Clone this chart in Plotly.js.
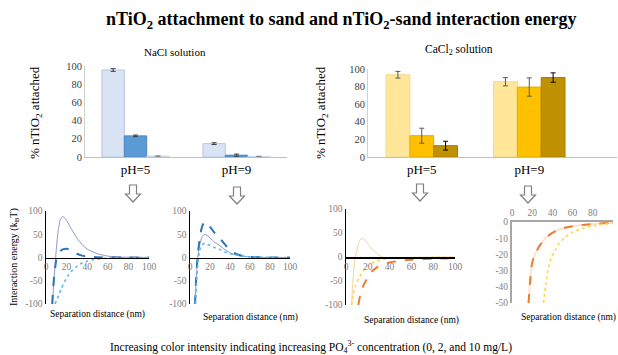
<!DOCTYPE html>
<html><head><meta charset="utf-8">
<script src="https://cdn.plot.ly/plotly-3.0.1.min.js"></script>
<style>html,body{margin:0;padding:0;background:#fff}#c{width:618px;height:355px}</style>
</head><body><div id="c"></div>
<script>
// ---------- DATA ----------
const barCats = ['pH=5', 'pH=9'];
const concLabels = ['0 mg/L', '2 mg/L', '10 mg/L'];
// NaCl attachment (%)
const nacl0 = [95.6, 14.7];  const nacl0Err = [1.5, 1.0];
const nacl2 = [23.2, 2.0];   const nacl2Err = [0.9, 1.2];
const nacl10 = [1.0, 0.6];   const nacl10Err = [0.2, 0.2];
// CaCl2 attachment (%)
const cacl0 = [93.5, 85.5];  const cacl0Err = [3.8, 4.7];
const cacl2 = [24.2, 79.5];  const cacl2Err = [8.5, 10.4];
const cacl10 = [12.9, 90.3]; const cacl10Err = [5.0, 5.3];

// Interaction energy (kBT) vs separation distance (nm)
// NaCl pH=5
const aX0 = [6.5, 7.5, 9, 10, 12, 14, 16, 18, 20, 25, 30, 35, 40, 50, 60, 70, 80, 90, 100];
const aY0 = [-100, -55, -12, 18, 60, 82, 88, 86, 80, 60, 42, 28, 18, 8, 3, 1, 0.5, 0.2, 0];
const aX2 = [6, 7, 8, 9, 10, 12, 14, 17, 20, 23, 26, 30, 35, 40, 50, 60, 80, 100];
const aY2 = [-100, -65, -38, -20, -5, 8, 14, 18, 19, 17, 13, 8, 4, 2, 0.5, 0, 0, 0];
const aX10 = [8.7, 12, 15, 18, 21, 25, 30, 35, 40, 46, 55, 65, 80, 100];
const aY10 = [-100, -83, -66, -52, -40, -29, -19, -12, -8, -5, -2, -1, -0.3, 0];
// NaCl pH=9
const bX0 = [5, 6, 7, 8, 10, 12, 14, 16, 18, 20, 25, 30, 35, 40, 45, 50, 60, 80, 100];
const bY0 = [-100, -55, -20, 5, 30, 44, 49, 49, 46, 42, 32, 25, 17, 10, 6, 3.5, 1, 0, 0];
const bX2 = [5, 6, 7, 8, 10, 12, 14, 16, 18, 20, 25, 30, 35, 40, 45, 50, 60, 70, 80, 100];
const bY2 = [-100, -50, -15, 10, 45, 66, 75, 76, 73, 66, 52, 41, 28, 15, 9, 5, 1.5, 0.5, 0, 0];
const bX10 = [5.5, 6.5, 7.5, 8.5, 10, 12, 14, 16, 20, 25, 30, 35, 40, 45, 50, 60, 80, 100];
const bY10 = [-100, -55, -22, 0, 18, 27, 30, 29, 26, 21, 17, 12, 8, 6, 4, 1.5, 0.3, 0];
// CaCl2 pH=5
const cX0 = [5.2, 6, 7, 8, 10, 12, 14, 16, 18, 20, 23, 26, 30, 33, 36, 40, 50, 60, 80, 100];
const cY0 = [-100, -60, -30, -8, 15, 32, 38, 38, 34, 28, 19, 12, 4, 0, -1.5, -2, -1.5, -1, -0.5, -0.2];
const cX2 = [11.3, 13, 16, 20, 23.5, 28, 34, 40, 46, 55, 65, 80, 90, 100];
const cY2 = [-100, -80, -59, -42, -31, -22, -15, -11.5, -9, -6.5, -5, -3.5, -3, -2];
const cX10 = [5, 7, 9, 12, 16, 20, 24, 28, 34, 40, 50, 60, 80, 100];
const cY10 = [-100, -75, -58, -43, -28, -19, -13, -8, -5, -3, -2, -1.5, -0.8, -0.5];
// CaCl2 pH=9
const dX0 = [16.4, 18, 19.7, 22, 24.7, 28, 32.9, 38, 46, 55, 65.8, 75, 85.5, 100];
const dY0 = [-50, -36, -26, -21, -17.5, -14, -10.3, -7.5, -4.7, -3.2, -2.1, -1.5, -1, -0.5];
const dX2 = [16.4, 18, 19.7, 22, 24.7, 28, 32.9, 38, 46, 55, 65.8, 75, 85.5, 100];
const dY2 = [-50, -36, -26, -21, -17.5, -14, -10.3, -7.5, -4.7, -3.2, -2.1, -1.5, -1, -0.5];
const dX10 = [31.2, 33.5, 36.2, 39, 42.8, 47, 52.6, 60, 69, 77, 85.5, 92, 100];
const dY10 = [-50, -38, -27.8, -22, -17.5, -13, -9.3, -6.3, -4.1, -2.8, -1.8, -1.2, -0.8];

const barYTicks = [0, 20, 40, 60, 80, 100];
const energyTicks = [-100, -50, 0, 50, 100];
const energyTickText = ['-100', '-50', '0', '50', '100'];
const distTicks = [0, 20, 40, 60, 80, 100];
const smallETicks = [0, -10, -20, -30, -40, -50];
const smallETickText = ['0', '-10', '-20', '-30', '-40', '-50'];

// ---------- HELPERS ----------
const W = 618, H = 355;
const px = x => x / W;
const py = y => 1 - y / H;
const SERIF = 'Liberation Serif, Times New Roman, serif';

function bar(x, y, err, fill, line, errColor, xa, ya, name) {
  return {type: 'bar', x: x, y: y, name: name, xaxis: xa, yaxis: ya,
    marker: {color: fill, line: {color: line, width: 1}},
    error_y: {type: 'data', array: err, visible: true, color: errColor, thickness: 1, width: 2.5},
    showlegend: false, hoverinfo: 'skip'};
}
function curve(x, y, color, dash, width, xa, ya, name) {
  return {type: 'scatter', mode: 'lines', x: x, y: y, name: name, xaxis: xa, yaxis: ya,
    line: {color: color, dash: dash, width: width, shape: 'spline', smoothing: 0.6},
    showlegend: false, hoverinfo: 'skip'};
}

const cNa0 = '#8f98c9', cNa2 = '#2e75b6', cNa10 = '#5bbbe8';
const cCa0 = '#eed49a', cCa2 = '#ed7d31', cCa10 = '#ffd54f';

const data = [
  bar(barCats, nacl0, nacl0Err, '#dae3f3', '#b4c7e7', '#404040', 'x', 'y', concLabels[0]),
  bar(barCats, nacl2, nacl2Err, '#5b9bd5', '#4a86c0', '#404040', 'x', 'y', concLabels[1]),
  bar(barCats, nacl10, nacl10Err, '#e4ebf5', '#c9d6ea', '#808080', 'x', 'y', concLabels[2]),
  bar(barCats, cacl0, cacl0Err, '#ffe699', '#f2d98c', '#595959', 'x2', 'y2', concLabels[0]),
  bar(barCats, cacl2, cacl2Err, '#ffc000', '#e6ad00', '#595959', 'x2', 'y2', concLabels[1]),
  bar(barCats, cacl10, cacl10Err, '#bf9000', '#a87f00', '#000000', 'x2', 'y2', concLabels[2]),

  curve(aX0, aY0, cNa0, 'solid', 1, 'x3', 'y3', concLabels[0]),
  curve(aX2, aY2, cNa2, 'dash', 2, 'x3', 'y3', concLabels[1]),
  curve(aX10, aY10, cNa10, 'dot', 1.6, 'x3', 'y3', concLabels[2]),

  curve(bX0, bY0, cNa0, 'solid', 1, 'x4', 'y4', concLabels[0]),
  curve(bX2, bY2, cNa2, 'dash', 2, 'x4', 'y4', concLabels[1]),
  curve(bX10, bY10, cNa10, 'dot', 1.6, 'x4', 'y4', concLabels[2]),

  curve(cX0, cY0, cCa0, 'solid', 1, 'x5', 'y5', concLabels[0]),
  curve(cX2, cY2, cCa2, 'dash', 2, 'x5', 'y5', concLabels[1]),
  curve(cX10, cY10, cCa10, 'dot', 1.6, 'x5', 'y5', concLabels[2]),

  curve(dX0, dY0, '#fbe3cf', 'solid', 2, 'x6', 'y6', concLabels[0]),
  curve(dX2, dY2, cCa2, 'dash', 2, 'x6', 'y6', concLabels[1]),
  curve(dX10, dY10, cCa10, 'dot', 1.6, 'x6', 'y6', concLabels[2])
];

const barTickFont = {family: SERIF, size: 10.5, color: '#404040'};
const eTickFont = {family: SERIF, size: 9.5, color: '#808080'};

function barX(dom, range, anchor) {
  return {domain: dom, range: range, anchor: anchor, type: 'category', showline: true, linecolor: '#bfbfbf',
    linewidth: 1, ticks: '', showgrid: false, zeroline: false, fixedrange: true,
    tickfont: {family: SERIF, size: 13, color: '#000'}};
}
function barY(dom, anchor) {
  return {domain: dom, range: [0, 100], anchor: anchor, showline: true, linecolor: '#d0d0d0', linewidth: 1,
    ticks: '', showgrid: false, zeroline: false, tickvals: barYTicks, tickfont: barTickFont, fixedrange: true};
}
function eX(dom, anchor, zeroPx) {
  return {domain: dom, range: [0, 100], anchor: 'free', position: py(zeroPx), showline: true, linecolor: '#000',
    linewidth: 1.5, ticks: '', showgrid: false, zeroline: false, tickvals: distTicks, tickfont: eTickFont, fixedrange: true};
}
function eY(dom, anchor) {
  return {domain: dom, range: [-100, 100], anchor: anchor, showline: true, linecolor: '#000', linewidth: 1.5,
    ticks: '', showgrid: false, zeroline: false, tickvals: energyTicks, ticktext: energyTickText,
    tickfont: eTickFont, fixedrange: true};
}

function arrow(cx, top) {
  const pts = [[cx - 3.5, top], [cx + 3.5, top], [cx + 3.5, top + 9], [cx + 7.5, top + 9],
               [cx, top + 17], [cx - 7.5, top + 9], [cx - 3.5, top + 9]];
  const d = 'M' + pts.map(p => px(p[0]).toFixed(5) + ',' + py(p[1]).toFixed(5)).join(' L') + ' Z';
  return {type: 'path', xref: 'paper', yref: 'paper', path: d, fillcolor: '#ffffff',
          line: {color: '#808080', width: 1.2}};
}

function ann(x, y, text, size, opts) {
  return Object.assign({xref: 'paper', yref: 'paper', x: px(x), y: py(y), text: text, showarrow: false,
    xanchor: 'center', yanchor: 'middle', font: {family: SERIF, size: size, color: '#000'}}, opts || {});
}

const layout = {
  width: W, height: H, margin: {l: 0, r: 0, t: 0, b: 0},
  paper_bgcolor: '#fff', plot_bgcolor: 'rgba(0,0,0,0)',
  barmode: 'group', bargap: 0.335, bargroupgap: 0, showlegend: false,
  xaxis: barX([px(85), px(287)], [-0.5, 1.5], 'y'),
  yaxis: barY([py(157), py(66)], 'x'),
  xaxis2: barX([px(368), px(617)], [-0.5, 1.816], 'y2'),
  yaxis2: barY([py(157), py(69)], 'x2'),
  xaxis3: eX([px(46), px(149)], 'y3', 257.5),
  yaxis3: eY([py(304), py(211)], 'x3'),
  xaxis4: eX([px(190), px(290)], 'y4', 257.5),
  yaxis4: eY([py(304), py(211)], 'x4'),
  xaxis5: eX([px(346), px(455)], 'y5', 257),
  yaxis5: eY([py(305), py(209)], 'x5'),
  xaxis6: {domain: [px(512), px(613)], range: [0, 100], anchor: 'y6', side: 'top', showline: true,
    linecolor: '#a6a6a6', linewidth: 2, ticks: '', showgrid: false, zeroline: false, tickvals: distTicks,
    tickfont: eTickFont, fixedrange: true},
  yaxis6: {domain: [py(303), py(222)], range: [-50, 0], anchor: 'x6', showline: true, linecolor: '#a6a6a6',
    linewidth: 2, ticks: '', showgrid: false, zeroline: false, tickvals: smallETicks, ticktext: smallETickText,
    tickfont: eTickFont, fixedrange: true},
  shapes: [arrow(133, 185), arrow(237, 187), arrow(420, 184), arrow(528, 186)],
  annotations: [
    ann(341, 20, '<b>nTiO<sub>2</sub> attachment to sand and nTiO<sub>2</sub>-sand interaction energy</b>', 18),
    ann(175, 52, 'NaCl solution', 11),
    ann(459, 50, 'CaCl<sub>2</sub> solution', 11.5),
    ann(35, 113, '% nTiO<sub>2</sub> attached', 13, {textangle: -90}),
    ann(321, 113, '% nTiO<sub>2</sub> attached', 13, {textangle: -90}),
    ann(14, 257, 'Interaction energy (k<sub>B</sub>T)', 10, {textangle: -90}),
    ann(97, 314, 'Separation distance (nm)', 9.5),
    ann(250, 317, 'Separation distance (nm)', 9.5),
    ann(411, 320, 'Separation distance (nm)', 9.5),
    ann(568, 317, 'Separation distance (nm)', 9.5),
    ann(311, 347, 'Increasing color intensity indicating increasing PO<sub>4</sub><sup>3-</sup> concentration (0, 2, and 10 mg/L)', 11.5)
  ]
};

Plotly.newPlot('c', data, layout, {staticPlot: true, displayModeBar: false});
</script>
</body></html>
